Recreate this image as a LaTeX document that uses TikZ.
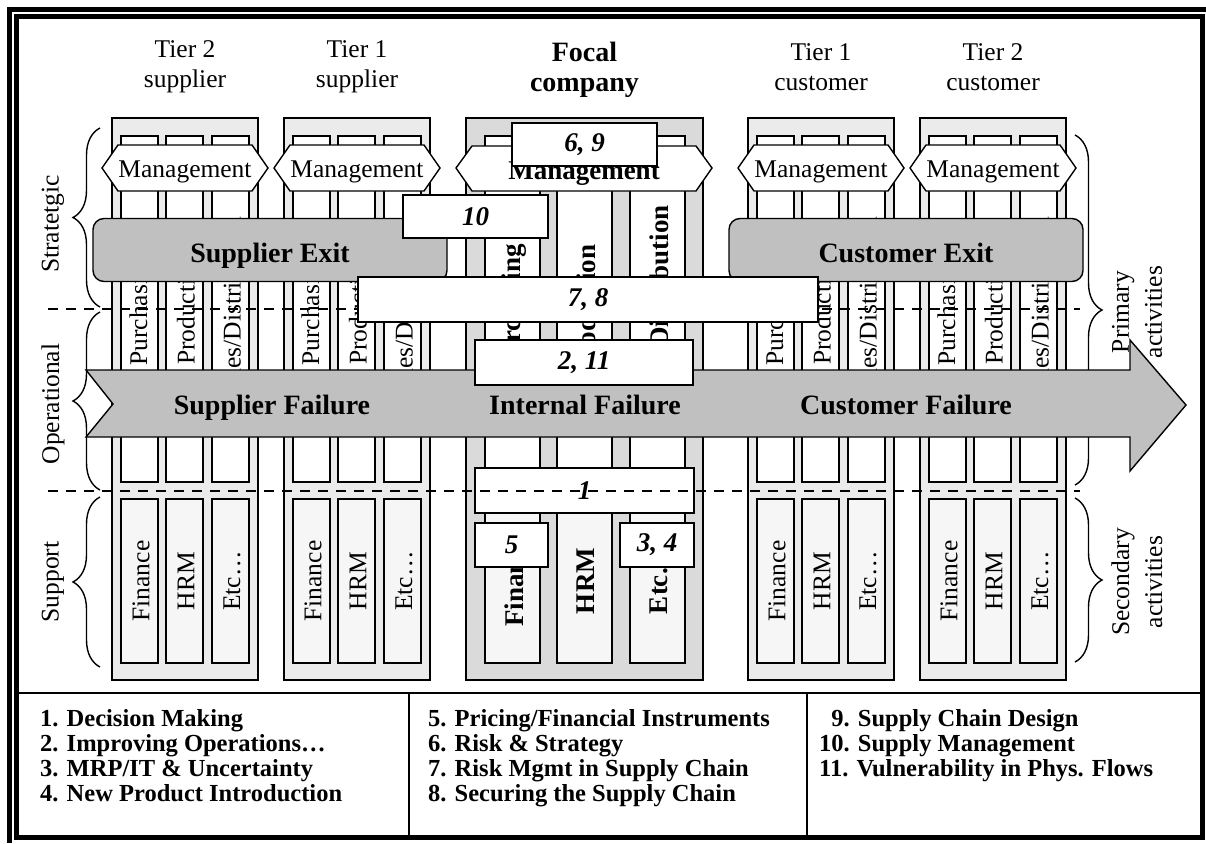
\documentclass[tikz,border=0pt]{standalone}
\usepackage{fontspec}
\setmainfont{Liberation Serif}
\usetikzlibrary{decorations.pathreplacing}
\definecolor{tierfill}{RGB}{235,235,235}
\definecolor{focalfill}{RGB}{218,218,218}
\definecolor{supfill}{RGB}{246,246,246}
\definecolor{riskfill}{RGB}{192,192,192}
\tikzset{
	tierbox/.style={draw=black, fill=tierfill, line width=1.4pt},
	focalbox/.style={draw=black, fill=focalfill, line width=1.4pt},
	primbox/.style={draw=black, fill=white, line width=1.4pt},
	supbox/.style={draw=black, fill=supfill, line width=1.4pt},
	hexa/.style={draw=black, fill=white, line width=1.4pt},
	riskarrow/.style={draw=black, fill=riskfill, line width=1.4pt},
	head/.style={align=center, inner sep=0pt, font=\fontsize{25.5}{30}\selectfont},
	headbold/.style={head, font=\fontsize{28}{30}\selectfont\bfseries},
	coltext/.style={rotate=90, inner sep=0pt, font=\fontsize{25.5}{30}\selectfont},
	coltextbold/.style={coltext, font=\fontsize{27}{30}\selectfont\bfseries},
	mgmt/.style={inner sep=0pt, anchor=base, font=\fontsize{25.5}{30}\selectfont},
	exitbox/.style={draw=black, fill=riskfill, line width=1.4pt, rounded corners=11pt,
			minimum width=354pt, minimum height=63pt, text height=25pt, text depth=1pt,
			font=\fontsize{28}{30}\selectfont\bfseries},
	risktext/.style={inner sep=0pt, anchor=base, font=\fontsize{28}{30}\selectfont\bfseries},
	numbox/.style={draw=black, fill=white, line width=1.4pt, inner sep=0pt,
			font=\fontsize{27}{30}\selectfont\bfseries\itshape},
	sepline/.style={line width=1.6pt, dash pattern=on 10pt off 8pt},
	sidebrace/.style={decorate, decoration={brace, amplitude=27pt}, line width=1.4pt},
	side/.style={rotate=90, align=center, inner sep=0pt, font=\fontsize{25.5}{33}\selectfont},
	legend/.style={align=left, inner sep=0pt, anchor=north west, font=\fontsize{24.5}{25}\selectfont\bfseries}
}

\begin{document}
\begin{tikzpicture}[x=1pt, y=-1pt]
		\useasboundingbox (0,0) rectangle (1206,843);
		\draw [line width=5pt]	(9,843) -- (9,9.5) -- (1206,9.5);
		\draw [line width=5pt]	(16,17) rectangle (1202,837.5);
		\draw [line width=2.5pt]	(16,693) -- (1202,693)
									(409,693) -- (409,837)
									(807,693) -- (807,837);

		\node [head] (tsTwo) at (185,67) {Tier 2\\supplier};
		\node [head] (tsOne) at (357,67) {Tier 1\\supplier};
		\node [headbold] (focal) at (584.5,70) {Focal\\company};
		\node [head] (tcOne) at (821,67) {Tier 1\\customer};
		\node [head] (tcTwo) at (993,67) {Tier 2\\customer};

		\foreach \x/\tier in {112/tsTwo, 284/tsOne, 748/tcOne, 920/tcTwo} {
			\filldraw [tierbox] (\x,118) rectangle ++(146,562);
			\foreach \dx/\prm/\sact in {9/Purchasing/Finance, 54/Production/HRM, 100/{Sales/Distribution}/Etc\dots} {
				\filldraw [primbox] (\x+\dx,136) rectangle ++(37,346);
				\filldraw [supbox] (\x+\dx,499) rectangle ++(37,164);
				\node [coltext] (\tier-p\dx) at (\x+\dx+20,309) {\prm};
				\node [coltext] (\tier-s\dx) at (\x+\dx+20,581) {\sact};
			}
			\draw [hexa] (\x-10,168) -- (\x+6,145) -- (\x+140,145) -- (\x+156,168) -- (\x+140,191) -- (\x+6,191) -- cycle;
			\node [mgmt] (\tier-m) at (\x+73,177) {Management};
		}

		\filldraw [focalbox] (466,118) rectangle (703,680);
		\foreach \dx/\prm/\sact in {19/Purchasing/Finance, 91/Production/HRM, 164/{Sales/Distribution}/Etc\dots} {
			\filldraw [primbox] (466+\dx,136) rectangle ++(55,346);
			\filldraw [supbox] (466+\dx,499) rectangle ++(55,164);
			\node [coltextbold] (focal-p\dx) at (495+\dx,309) {\prm};
			\node [coltextbold] (focal-s\dx) at (495+\dx,581) {\sact};
		}
		\draw [hexa] (456,168) -- (472,146) -- (696,146) -- (712,168) -- (696,191) -- (472,191) -- cycle;
		\node [mgmt, font=\fontsize{27}{30}\selectfont\bfseries] (focal-m) at (584,179) {Management};

		\node [exitbox] (supexit) at (270,250) {Supplier Exit};
		\node [exitbox] (cusexit) at (906,250) {Customer Exit};

		\coordinate (stratB) at (100,307);	\coordinate (stratT) at (100,128);
		\coordinate (operB) at (100,490);	\coordinate (operT) at (100,312);
		\coordinate (suppB) at (100,667);	\coordinate (suppT) at (100,497);
		\coordinate (primT) at (1075,135);	\coordinate (primB) at (1075,485);
		\coordinate (secdT) at (1075,498);	\coordinate (secdB) at (1075,662);
		\draw [sidebrace] (stratB) -- (stratT);
		\draw [sidebrace] (operB) -- (operT);
		\draw [sidebrace] (suppB) -- (suppT);
		\draw [sidebrace] (primT) -- (primB);
		\draw [sidebrace] (secdT) -- (secdB);

		\filldraw [riskarrow]	(86,370) -- (1130,370) -- (1130,340) -- (1186,405) -- (1130,471)
								-- (1130,437) -- (86,437) -- (113,404) -- cycle;
		\node [risktext] (supfail) at (272,414) {Supplier Failure};
		\node [risktext] (intfail) at (585,414) {Internal Failure};
		\node [risktext] (cusfail) at (906,414) {Customer Failure};

		\node [numbox, minimum width=145pt, minimum height=43pt] (r69) at (584.5,144.5) {6, 9};
		\node [numbox, minimum width=145pt, minimum height=43pt] (r10) at (475.5,216.5) {10};
		\node [numbox, minimum width=218pt, minimum height=45pt] (r211) at (584,362.5) {2, 11};
		\node [numbox, minimum width=219pt, minimum height=45pt] (r1) at (584.5,490.5) {1};
		\node [numbox, minimum width=73pt, minimum height=44pt] (r5) at (511.5,545) {5};
		\node [numbox, minimum width=74pt, minimum height=44pt] (r34) at (657,545) {3, 4};
		\draw [sepline] (48,309) -- (1080,309)
						(48,491) -- (1080,491);
		\node [numbox, minimum width=460pt, minimum height=45pt] (r78) at (588,299.5) {7, 8};

		\node [side] (strat) at (53,224) {Stratetgic};
		\node [side] (oper) at (53,404) {Operational};
		\node [side] (supp) at (53,582) {Support};
		\node [side] (prim) at (1137,312) {Primary\\activities};
		\node [side] (secd) at (1137,582) {Secondary\\activities};

		\node [legend] (legA) at (40,709) {1. Decision Making\\2. Improving Operations\dots\\3. MRP/IT \& Uncertainty\\4. New Product Introduction};
		\node [legend] (legB) at (428,709) {5. Pricing/Financial Instruments\\6. Risk \& Strategy\\7. Risk Mgmt in Supply Chain\\8. Securing the Supply Chain};
		\node [legend] (legC) at (819,709) {\hphantom{1}9. Supply Chain Design\\10. Supply Management\\11. Vulnerability in Phys. Flows};
	\end{tikzpicture}
\end{document}
